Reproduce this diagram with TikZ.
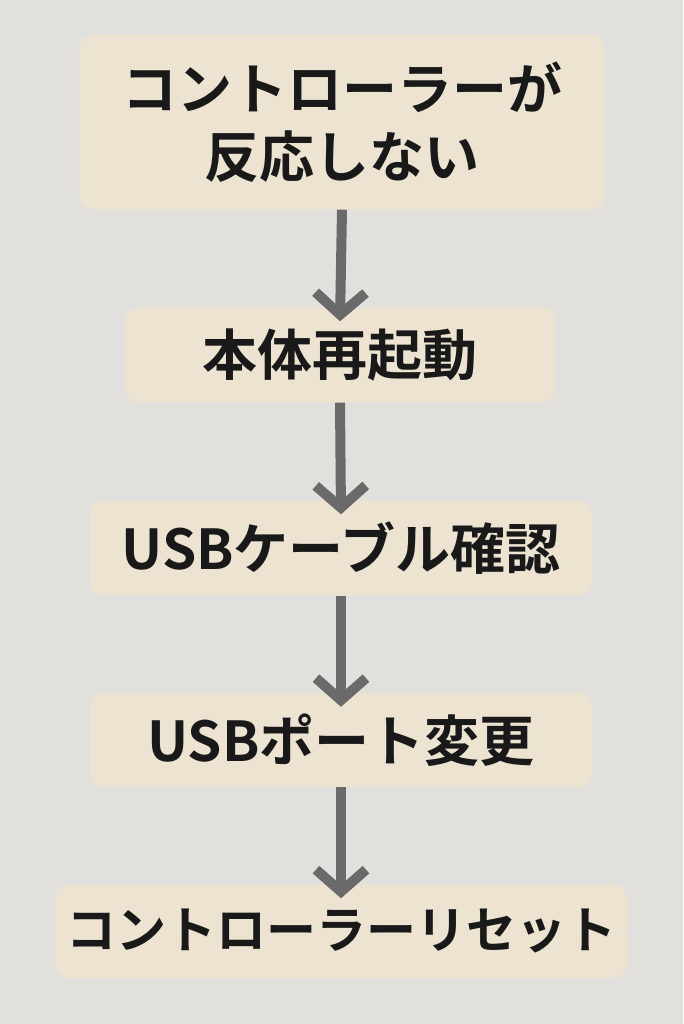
\documentclass[tikz,border=0pt]{standalone}
\usepackage{fontspec}
\newfontfamily\jp{Noto Sans CJK JP}[BoldFont={* Bold}]
\usetikzlibrary{arrows.meta}
\definecolor{bg}{HTML}{E1E0DD}
\definecolor{boxc}{HTML}{ECE3D1}
\definecolor{arr}{HTML}{6A6A6A}
\begin{document}
\begin{tikzpicture}[x=1pt,y=-1pt,
  stepbox/.style={fill=boxc,rounded corners=14pt,inner sep=0pt,align=center,
    font=\jp\bfseries\fontsize{55}{68}\selectfont,text=black!90},
  conn/.style={draw=arr,line width=10pt,-{Straight Barb[length=22pt,width=50pt]}}]
\fill[bg] (0,0) rectangle (683,1024);
\useasboundingbox (0,0) rectangle (683,1024);
\node[stepbox,minimum width=525pt,minimum height=175pt] (a) at (342,122) {コントローラーが\\反応しない};
\node[stepbox,minimum width=431pt,minimum height=95pt] (b) at (340,355) {本体再起動};
\node[stepbox,minimum width=502pt,minimum height=95pt] (c) at (341,548) {USBケーブル確認};
\node[stepbox,minimum width=502pt,minimum height=94pt] (d) at (341,740) {USBポート変更};
\node[stepbox,minimum width=572pt,minimum height=93pt,font=\jp\bfseries\fontsize{50}{60}\selectfont] (e) at (341,931) {コントローラーリセット};
\draw[conn] (a.south) -- ([yshift=-14pt]b.north);
\draw[conn] (b.south) -- ([yshift=-14pt]c.north);
\draw[conn] (c.south) -- ([yshift=-14pt]d.north);
\draw[conn] (d.south) -- ([yshift=-14pt]e.north);
\end{tikzpicture}
\end{document}
